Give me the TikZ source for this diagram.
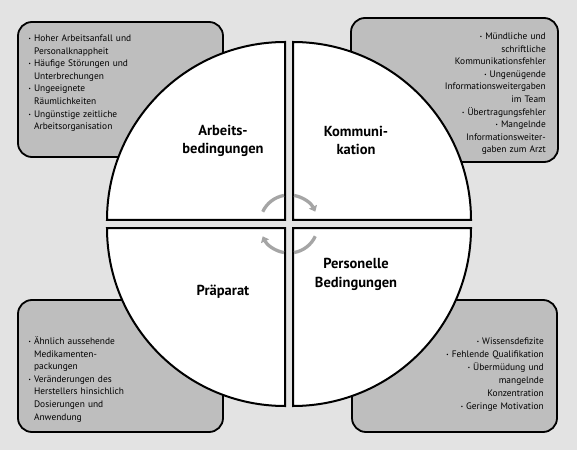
\documentclass[tikz,border=0pt]{standalone}
\usepackage{fontspec}
\setmainfont{PT Sans}
\usetikzlibrary{arrows.meta}

\definecolor{bggray}{RGB}{227,227,227}
\definecolor{boxgray}{RGB}{190,190,190}
\definecolor{arrowgray}{RGB}{165,165,165}

\tikzset{
  causebox/.style={draw=black, line width=1.8pt, fill=boxgray, rounded corners=14pt},
  quadrant/.style={draw=black, line width=2pt, fill=white},
  listtext/.style={inner sep=0pt, text width=195pt, font=\fontsize{9.4}{12.6}\selectfont},
  titletext/.style={inner sep=0pt, align=center, anchor=base, font=\fontsize{14.5}{18.5}\selectfont\bfseries},
  cyclearrow/.style={draw=arrowgray, line width=3.3pt},
  cycletip/.style={-{Triangle[length=5.5pt,width=8.5pt]}},
}
\newcommand{\blt}{\raisebox{0.9pt}{\tiny\textbullet}\ }
\newcommand{\ind}{\hphantom{\blt}}

\begin{document}
\begin{tikzpicture}[x=1pt,y=1pt]
    % Hintergrund
    \fill[bggray] (0,0) rectangle (577,450);

    % Kaesten mit den Einzelfaktoren
    \draw[causebox] (18,293) rectangle (223,428);
    \draw[causebox] (351,288) rectangle (558,432);
    \draw[causebox] (18,18) rectangle (223,150);
    \draw[causebox] (352,18) rectangle (557,150);

    % Viertelkreise
    \draw[quadrant] (285,230) -- (107,230) arc[start angle=180, end angle=90, radius=178pt] -- cycle;
    \draw[quadrant] (293,230) -- (293,408) arc[start angle=90, end angle=0, radius=178pt] -- cycle;
    \draw[quadrant] (285,222) -- (107,222) arc[start angle=180, end angle=270, radius=178pt] -- cycle;
    \draw[quadrant] (293,222) -- (471,222) arc[start angle=0, end angle=-90, radius=178pt] -- cycle;

    % Kreispfeile in der Mitte
    \coordinate (mitte) at (289,226);
    \draw[cyclearrow] (mitte) ++(155:29pt) arc[start angle=155, end angle=100, radius=29pt];
    \draw[cyclearrow, cycletip] (mitte) ++(80:29pt) arc[start angle=80, end angle=25, radius=29pt];
    \draw[cyclearrow] (mitte) ++(-25:29pt) arc[start angle=-25, end angle=-80, radius=29pt];
    \draw[cyclearrow, cycletip] (mitte) ++(-100:29pt) arc[start angle=-100, end angle=-155, radius=29pt];

    % Titel der Viertel
    \node[titletext] (arbeit) at (223,296) {Arbeits-\\bedingungen};
    \node[titletext] (kommu) at (356,295) {Kommuni-\\kation};
    \node[titletext] (praep) at (223,155) {Präparat};
    \node[titletext] (person) at (356,163) {Personelle\\Bedingungen};

    % Listen
    \node[listtext, align=left, anchor=base west] (arbeitlist) at (28.5,408.5) {%
      \blt Hoher Arbeitsanfall und\\\ind Personalknappheit\\
      \blt Häufige Störungen und\\\ind Unterbrechungen\\
      \blt Ungeeignete\\\ind Räumlichkeiten\\
      \blt Ungünstige zeitliche\\\ind Arbeitsorganisation};
    \node[listtext, align=right, anchor=base east] (kommulist) at (546,410.5) {%
      \blt Mündliche und\\schriftliche\\Kommunikationsfehler\\
      \blt Ungenügende\\Informationsweitergaben\\im Team\\
      \blt Übertragungsfehler\\
      \blt Mangelnde\\Informationsweiter-\\gaben zum Arzt};
    \node[listtext, align=left, anchor=base west] (praeplist) at (28.5,105.5) {%
      \blt Ähnlich aussehende\\\ind Medikamenten-\\\ind packungen\\
      \blt Veränderungen des\\\ind Herstellers hinsichlich\\\ind Dosierungen und\\\ind Anwendung};
    \node[listtext, align=right, anchor=base east, font=\fontsize{9.4}{12.9}\selectfont] (personlist) at (544,105.5) {%
      \blt Wissensdefizite\\
      \blt Fehlende Qualifikation\\
      \blt Übermüdung und\\mangelnde\\Konzentration\\
      \blt Geringe Motivation};
\end{tikzpicture}
\end{document}
